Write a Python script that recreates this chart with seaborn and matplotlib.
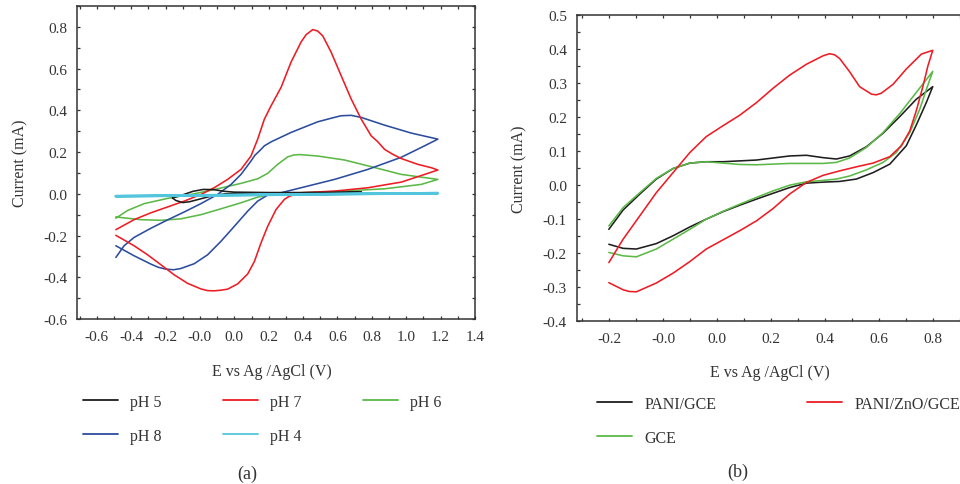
import numpy as np
import pandas as pd
import matplotlib
matplotlib.use("Agg")
import matplotlib.pyplot as plt
from matplotlib.lines import Line2D
from matplotlib.ticker import MultipleLocator
import seaborn as sns

# ---------------- panel (a): CVs at different pH ----------------
ph7_E = [-0.689, -0.583, -0.485, -0.388, -0.291, -0.194, -0.117, -0.039, 0.039, 0.097,
         0.136, 0.175, 0.214, 0.272, 0.330, 0.388, 0.417, 0.456, 0.485, 0.515, 0.563,
         0.621, 0.680, 0.738, 0.796, 0.835, 0.874, 0.922, 0.971, 1.068, 1.146, 1.184,
         1.126, 0.971, 0.777, 0.583, 0.388, 0.340, 0.315, 0.291, 0.243, 0.194, 0.155,
         0.117, 0.078, 0.019, -0.039, -0.078, -0.117, -0.155, -0.194, -0.272, -0.350,
         -0.427, -0.505, -0.583, -0.689]
ph7_I = [-0.172, -0.124, -0.091, -0.063, -0.035, -0.003, 0.029, 0.069, 0.117, 0.181,
         0.262, 0.358, 0.422, 0.510, 0.631, 0.727, 0.762, 0.787, 0.780, 0.756, 0.679,
         0.567, 0.454, 0.358, 0.278, 0.249, 0.213, 0.189, 0.169, 0.141, 0.125, 0.114,
         0.098, 0.056, 0.029, 0.013, 0.005, -0.006, -0.014, -0.027, -0.075, -0.156, -0.236,
         -0.324, -0.384, -0.432, -0.457, -0.462, -0.465, -0.464, -0.456, -0.429, -0.388,
         -0.340, -0.292, -0.249, -0.199]

ph8_E = [-0.689, -0.641, -0.583, -0.485, -0.388, -0.291, -0.194, -0.097, -0.019, 0.039,
         0.097, 0.120, 0.146, 0.175, 0.214, 0.330, 0.485, 0.563, 0.621, 0.680, 0.738,
         0.874, 1.029, 1.184,
         1.107, 0.971, 0.777, 0.583, 0.388, 0.272, 0.194, 0.136, 0.078, 0.0, -0.078,
         -0.155, -0.233, -0.311, -0.353, -0.398, -0.443, -0.485, -0.583, -0.689]
ph8_I = [-0.305, -0.249, -0.209, -0.165, -0.125, -0.087, -0.047, -0.003, 0.045, 0.093,
         0.157, 0.185, 0.205, 0.230, 0.249, 0.294, 0.345, 0.362, 0.374, 0.376, 0.366,
         0.329, 0.291, 0.262,
         0.230, 0.175, 0.117, 0.069, 0.029, 0.005, -0.006, -0.035, -0.083, -0.156, -0.228,
         -0.292, -0.335, -0.358, -0.364, -0.361, -0.352, -0.337, -0.297, -0.249]

ph6_E = [-0.689, -0.621, -0.524, -0.388, -0.233, -0.097, 0.039, 0.136, 0.194, 0.252,
         0.311, 0.346, 0.379, 0.485, 0.641, 0.796, 0.971, 1.184,
         1.087, 0.874, 0.583, 0.388, 0.233, 0.136, 0.039, -0.078, -0.194, -0.311,
         -0.427, -0.544, -0.689]
ph6_I = [-0.117, -0.080, -0.047, -0.022, 0.0, 0.024, 0.050, 0.072, 0.098, 0.141,
         0.177, 0.186, 0.188, 0.181, 0.162, 0.130, 0.093, 0.069,
         0.045, 0.024, 0.011, 0.005, 0.0, -0.016, -0.043, -0.072, -0.100, -0.120,
         -0.127, -0.124, -0.111]

ph5_E = [-0.36, -0.30, -0.24, -0.18, -0.12, -0.06, 0.0, 0.2, 0.4, 0.6, 0.74,
         0.5, 0.3, 0.1, -0.05, -0.12, -0.20, -0.26, -0.30, -0.34, -0.36]
ph5_I = [-0.020, -0.005, 0.012, 0.021, 0.020, 0.012, 0.008, 0.006, 0.006, 0.007, 0.008,
         0.004, 0.003, 0.002, 0.0, -0.008, -0.025, -0.038, -0.042, -0.032, -0.020]

ph4_E = [-0.689, -0.3, 0.2, 0.7, 1.184, 0.7, 0.2, -0.3, -0.689]
ph4_I = [-0.012, -0.009, -0.005, -0.001, 0.003, 0.0, -0.004, -0.008, -0.011]

a_xticks = [-0.8, -0.6, -0.4, -0.2, 0.0, 0.2, 0.4, 0.6, 0.8, 1.0, 1.2, 1.4]
a_xticklabels = ["-0.6", "-0.4", "-0.2", "-0.0", "0.0", "0.2", "0.4", "0.6",
                 "0.8", "1.0", "1.2", "1.4"]
a_yticks = [-0.6, -0.4, -0.2, 0.0, 0.2, 0.4, 0.6, 0.8]
a_yticklabels = ["-0.6", "-0.4", "-0.2", "0.0", "0.2", "0.4", "0.6", "0.8"]

# ---------------- panel (b): electrode comparison ----------------
zno_E = [-0.401, -0.348, -0.286, -0.225, -0.163, -0.101, -0.040, 0.022, 0.084, 0.146,
         0.207, 0.269, 0.331, 0.393, 0.417, 0.435, 0.454, 0.491, 0.528, 0.572, 0.590,
         0.609, 0.652, 0.701, 0.757, 0.799,
         0.781, 0.763, 0.738, 0.714, 0.683, 0.640, 0.578, 0.516, 0.454, 0.393, 0.331,
         0.269, 0.207, 0.146, 0.084, 0.022, -0.040, -0.101, -0.163, -0.225, -0.299,
         -0.325, -0.348, -0.401]
zno_I = [-0.229, -0.160, -0.091, -0.023, 0.036, 0.095, 0.142, 0.174, 0.205, 0.242,
         0.284, 0.323, 0.355, 0.380, 0.386, 0.383, 0.372, 0.333, 0.289, 0.267, 0.265,
         0.270, 0.296, 0.341, 0.385, 0.396,
         0.350, 0.291, 0.218, 0.159, 0.115, 0.083, 0.064, 0.053, 0.041, 0.028, 0.007,
         -0.027, -0.070, -0.106, -0.135, -0.162, -0.189, -0.226, -0.260, -0.289, -0.315,
         -0.314, -0.309, -0.288]

pani_E = [-0.401, -0.348, -0.286, -0.225, -0.163, -0.101, -0.040, 0.022, 0.146, 0.269,
          0.331, 0.393, 0.442, 0.491, 0.553, 0.615, 0.677, 0.738, 0.799,
          0.775, 0.738, 0.701, 0.640, 0.578, 0.516, 0.454, 0.393, 0.331, 0.269, 0.207,
          0.146, 0.084, 0.022, -0.040, -0.101, -0.163, -0.225, -0.299, -0.348, -0.401]
pani_I = [-0.131, -0.074, -0.027, 0.017, 0.048, 0.064, 0.068, 0.068, 0.073, 0.085,
          0.087, 0.080, 0.076, 0.085, 0.112, 0.152, 0.201, 0.252, 0.289,
          0.242, 0.176, 0.115, 0.061, 0.036, 0.017, 0.010, 0.008, 0.005, -0.008, -0.025,
          -0.042, -0.060, -0.079, -0.101, -0.124, -0.150, -0.173, -0.189, -0.187, -0.175]

gce_E = [-0.401, -0.348, -0.286, -0.225, -0.163, -0.101, -0.040, 0.022, 0.084, 0.146,
         0.269, 0.393, 0.442, 0.491, 0.553, 0.615, 0.677, 0.738, 0.799,
         0.775, 0.751, 0.714, 0.664, 0.615, 0.553, 0.491, 0.442, 0.393, 0.331, 0.269,
         0.207, 0.146, 0.084, 0.022, -0.040, -0.101, -0.163, -0.225, -0.299, -0.348, -0.401]
gce_I = [-0.121, -0.067, -0.023, 0.019, 0.048, 0.064, 0.068, 0.064, 0.060, 0.059,
         0.063, 0.063, 0.066, 0.079, 0.110, 0.154, 0.210, 0.272, 0.334,
         0.280, 0.223, 0.154, 0.095, 0.066, 0.044, 0.026, 0.017, 0.013, 0.009, -0.001,
         -0.018, -0.037, -0.057, -0.078, -0.101, -0.131, -0.160, -0.189, -0.212, -0.209, -0.199]

b_xticks = [-0.4, -0.2, 0.0, 0.2, 0.4, 0.6, 0.8]
b_xticklabels = ["-0.2", "-0.0", "0.0", "0.2", "0.4", "0.6", "0.8"]
b_yticks = [-0.4, -0.3, -0.2, -0.1, 0.0, 0.1, 0.2, 0.3, 0.4, 0.5]
b_yticklabels = ["-0.4", "-0.3", "-0.2", "-0.1", "0.0", "0.1", "0.2", "0.3", "0.4", "0.5"]

# ---------------- style ----------------
sns.set_style("ticks")
plt.rcParams["font.family"] = ["Liberation Serif", "DejaVu Serif"]
TXT = "#333333"
plt.rcParams.update({
    "text.color": TXT, "axes.labelcolor": TXT,
    "xtick.color": TXT, "ytick.color": TXT,
    "axes.edgecolor": "#333333", "axes.linewidth": 1.1,
    "lines.solid_joinstyle": "round",
})

colors_a = {"pH 5": "#1e1e1e", "pH 7": "#ee1c24", "pH 6": "#5cb947",
            "pH 8": "#2c4c9e", "pH 4": "#53c5dc"}
colors_b = {"PANI/GCE": "#1e1e1e", "PANI/ZnO/GCE": "#ee1c24", "GCE": "#5cb947"}


def frame(series):
    parts = []
    for name, (E, I) in series.items():
        parts.append(pd.DataFrame({"E": E, "I": I, "sample": name,
                                   "step": np.arange(len(E))}))
    return pd.concat(parts, ignore_index=True)


df_a = frame({"pH 6": (ph6_E, ph6_I), "pH 8": (ph8_E, ph8_I),
              "pH 7": (ph7_E, ph7_I), "pH 5": (ph5_E, ph5_I)})
df_a4 = frame({"pH 4": (ph4_E, ph4_I)})
df_b = frame({"PANI/GCE": (pani_E, pani_I), "GCE": (gce_E, gce_I),
              "PANI/ZnO/GCE": (zno_E, zno_I)})

fig = plt.figure(figsize=(9.6, 4.85), dpi=100)
ax_a = fig.add_axes([77 / 960, 1 - 320 / 485, 398 / 960, 313 / 485])
ax_b = fig.add_axes([576.7 / 960, 1 - 321.7 / 485, 410.3 / 960, 305.7 / 485])

sns.lineplot(data=df_a, x="E", y="I", hue="sample", palette=colors_a, units="sample",
             sort=False, estimator=None, legend=False, lw=1.15, ax=ax_a)
sns.lineplot(data=df_a4, x="E", y="I", hue="sample", palette=colors_a,
             sort=False, estimator=None, legend=False, lw=1.9, ax=ax_a)
sns.lineplot(data=df_b, x="E", y="I", hue="sample", palette=colors_b, units="sample",
             sort=False, estimator=None, legend=False, lw=1.15, ax=ax_b)


def style_axes(ax, xlim, ylim, xt, xtl, yt, ytl, xminor, yminor):
    ax.set_xlim(*xlim)
    ax.set_ylim(*ylim)
    ax.set_xticks(xt)
    ax.set_xticklabels(xtl)
    ax.set_yticks(yt)
    ax.set_yticklabels(ytl)
    ax.xaxis.set_minor_locator(MultipleLocator(xminor))
    ax.yaxis.set_minor_locator(MultipleLocator(yminor))
    ax.tick_params(which="both", direction="in", top=True, right=True,
                   length=2.5, width=0.9, labelsize=11)
    ax.tick_params(axis="x", which="major", pad=8)
    ax.tick_params(axis="y", which="major", pad=7)
    for s in ax.spines.values():
        s.set_visible(True)
    ax.set_xlabel("E vs Ag /AgCl (V)", fontsize=11.5)
    ax.set_ylabel("Current (mA)", fontsize=11.5)


style_axes(ax_a, (-0.915, 1.4), (-0.6, 0.9), a_xticks, a_xticklabels,
           a_yticks, a_yticklabels, 0.1, 0.1)
style_axes(ax_b, (-0.52, 1.0), (-0.4, 0.5), b_xticks, b_xticklabels,
           b_yticks, b_yticklabels, 0.1, 0.05)
ax_a.xaxis.set_label_coords(0.49, -0.14)
ax_a.yaxis.set_label_coords(-0.123, 0.5)
ax_b.xaxis.set_label_coords(0.471, -0.142)
ax_b.yaxis.set_label_coords(-0.121, 0.5)


def handles(names, pal):
    return [Line2D([], [], color=pal[n], lw=1.3) for n in names]


order_a = ["pH 5", "pH 8", "pH 7", "pH 4", "pH 6"]
fig.legend(handles(order_a, colors_a), order_a, ncol=3, frameon=False,
           loc="upper left", bbox_to_anchor=(83 / 960, 1 - 395 / 485),
           borderpad=0, borderaxespad=0, fontsize=11.5, handlelength=2.2,
           handletextpad=0.75, columnspacing=3.85, labelspacing=1.1)

order_b = ["PANI/GCE", "GCE", "PANI/ZnO/GCE"]
fig.legend(handles(order_b, colors_b), order_b, ncol=2, frameon=False,
           loc="upper left", bbox_to_anchor=(597 / 960, 1 - 397 / 485),
           borderpad=0, borderaxespad=0, fontsize=11.5, handlelength=2.2,
           handletextpad=0.75, columnspacing=5.7, labelspacing=1.1)

fig.text(247 / 960, 1 - 474 / 485, "(a)", ha="center", va="center", fontsize=13)
fig.text(738 / 960, 1 - 472 / 485, "(b)", ha="center", va="center", fontsize=13)

fig.savefig("out.png", dpi=100)
